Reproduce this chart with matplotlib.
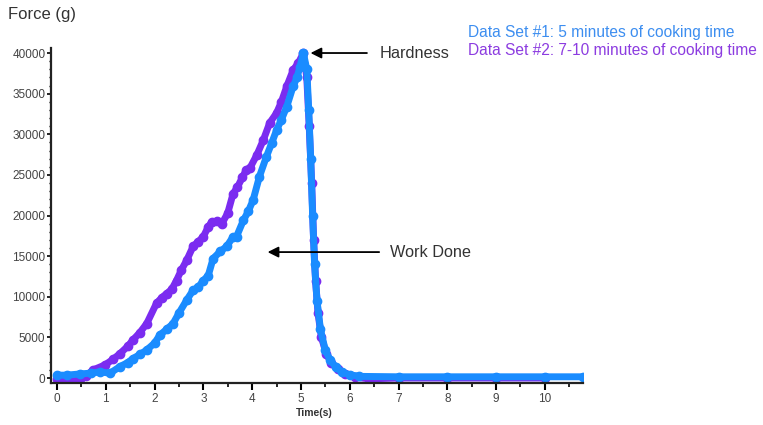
import matplotlib
matplotlib.use("Agg")
import matplotlib.pyplot as plt
from matplotlib.ticker import MultipleLocator

plt.rcParams['font.family'] = ['Liberation Sans', 'DejaVu Sans']

# data set 1: 5 minutes cooking (blue)
t1 = [0, 0.2, 0.47, 0.7, 0.88, 1.09, 1.29, 1.45, 1.56, 1.7, 1.84, 2.0, 2.11, 2.25, 2.38,
      2.5, 2.66, 2.79, 2.9, 3.0, 3.1, 3.2, 3.35, 3.48, 3.6, 3.68, 3.82, 3.92, 4.02, 4.15,
      4.29, 4.4, 4.5, 4.6, 4.71, 4.84, 4.92, 4.98, 5.05, 5.12, 5.16, 5.2, 5.24, 5.28,
      5.33, 5.4, 5.5, 5.6, 5.72, 5.85, 6.0, 6.2, 7.0, 8.0, 9.0, 10.0, 10.78]
f1 = [350, 350, 500, 600, 750, 600, 1400, 1900, 2400, 2900, 3450, 4300, 5300, 6000, 6700,
      8000, 9600, 10800, 11200, 12000, 12600, 14700, 15600, 16200, 17300, 17400, 19400, 20500,
      21900, 24800, 27200, 28900, 30500, 31800, 33400, 35900, 37000, 38300, 40000, 38000,
      33000, 27000, 20000, 14000, 9500, 6000, 3400, 2200, 1300, 700, 400, 200, 150, 150,
      150, 150, 150]

# data set 2: 7-10 minutes cooking (purple)
t2 = [0, 0.2, 0.47, 0.6, 0.74, 0.98, 1.15, 1.29, 1.45, 1.56, 1.7, 1.84, 2.04, 2.15, 2.25,
      2.35, 2.45, 2.55, 2.66, 2.79, 2.9, 3.0, 3.1, 3.17, 3.28, 3.38, 3.5, 3.61, 3.7, 3.8,
      3.88, 3.96, 4.1, 4.23, 4.36, 4.5, 4.6, 4.71, 4.84, 4.95, 5.05, 5.12, 5.17, 5.22,
      5.26, 5.3, 5.35, 5.42, 5.52, 5.62, 5.75, 5.9, 6.1, 6.4, 7.0, 8.0, 9.0, 10.0]
f2 = [-150, -150, -150, 300, 1000, 1600, 2300, 3000, 3900, 4700, 5600, 6700, 9200, 9900,
      10400, 10900, 12000, 13300, 14500, 16200, 16800, 17400, 18600, 19200, 19300, 19000,
      20300, 22700, 23500, 24700, 25600, 25900, 27500, 29300, 31400, 32600, 34000, 35900,
      37900, 38800, 40000, 37000, 31000, 24000, 17000, 12000, 8000, 5000, 3000, 1900, 1100,
      500, 100, -100, 0, 0, 0, 0]

blue = '#1a8cff'
purple = '#7b2cf0'

fig = plt.figure(figsize=(7.63, 4.25), dpi=100)
ax = fig.add_axes([0.0668, 0.0988, 0.6972, 0.7882])

ax.plot(t2, f2, color=purple, lw=5, marker='o', ms=6, solid_joinstyle='round', solid_capstyle='round')
ax.plot(t1, f1, color=blue, lw=5, marker='o', ms=6, solid_joinstyle='round', solid_capstyle='round')

ax.set_xlim(-0.123, 10.78)
ax.set_ylim(-615, 40615)

for s in ['top', 'right']:
    ax.spines[s].set_visible(False)
for s in ['left', 'bottom']:
    ax.spines[s].set_linewidth(1.6)
    ax.spines[s].set_color('#222222')

ax.xaxis.set_major_locator(MultipleLocator(1))
ax.xaxis.set_minor_locator(MultipleLocator(0.5))
ax.yaxis.set_major_locator(MultipleLocator(5000))
ax.yaxis.set_minor_locator(MultipleLocator(1000))
ax.tick_params(axis='x', which='major', length=5, width=1.5, pad=2, labelsize=8.5, labelcolor='#444444')
ax.tick_params(axis='x', which='minor', length=3, width=1.2)
ax.tick_params(axis='y', which='major', length=3, width=1.2, pad=1, labelsize=8.5, labelcolor='#444444')
ax.tick_params(axis='y', which='minor', length=1.5, width=1)

fig.text(8 / 763, 1 - 15 / 425, 'Force (g)', fontsize=12, color='#333333', va='center', ha='left')
fig.text(314 / 763, 1 - 413 / 425, 'Time(s)', fontsize=7.5, fontweight='bold', color='#333333',
         va='center', ha='center')

arrow = dict(arrowstyle='-|>', color='black', lw=1.3, mutation_scale=16)
ax.annotate('', xy=(5.14, 40000), xytext=(6.41, 40000), arrowprops=arrow)
ax.text(6.62, 40000, 'Hardness', fontsize=11.7, color='#333333', va='center', ha='left')
ax.annotate('', xy=(4.26, 15500), xytext=(6.66, 15500), arrowprops=arrow)
ax.text(6.82, 15500, 'Work Done', fontsize=11.7, color='#333333', va='center', ha='left')

fig.text(468 / 763, 1 - 32 / 425, 'Data Set #1: 5 minutes of cooking time', fontsize=11.2,
         color='#3d8ef0', va='center', ha='left')
fig.text(468 / 763, 1 - 50 / 425, 'Data Set #2: 7-10 minutes of cooking time', fontsize=11.2,
         color='#8c3ce0', va='center', ha='left')

fig.savefig('out.png', dpi=100)
